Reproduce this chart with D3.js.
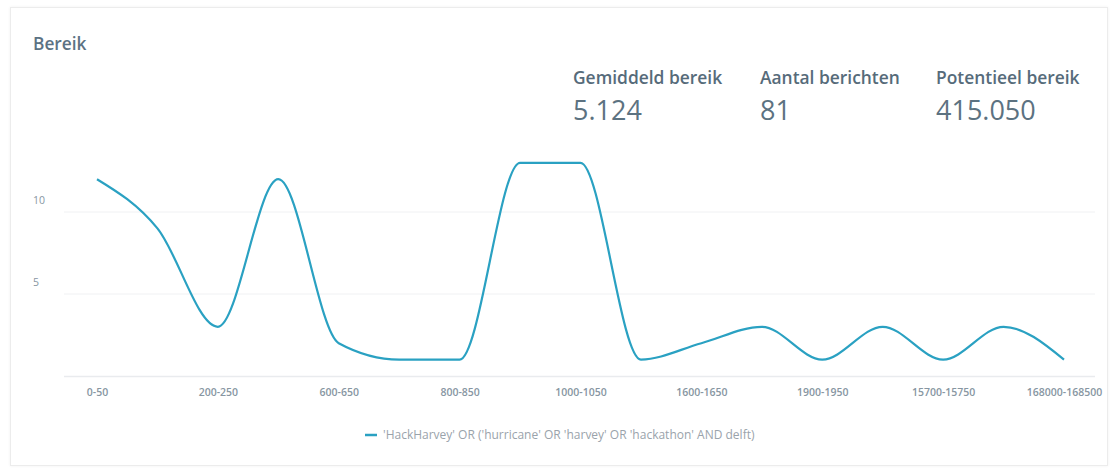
<!DOCTYPE html>
<html>
<head>
<meta charset="utf-8">
<script src="https://cdn.jsdelivr.net/npm/d3@7"></script>
<style>
  body { margin: 0; background: #fff; font-family: "Open Sans", Lato, sans-serif; }
  .card { position: absolute; left: 10px; top: 7px; width: 1096px; height: 457px;
          border: 1px solid #ececec; box-shadow: 0 0 3px rgba(0,0,0,0.06); background: #fff; }
  .tick text { fill: #8796a2; }
</style>
</head>
<body>
<div class="card"></div>
<svg id="chart" width="1110" height="468" style="position:absolute;left:0;top:0"></svg>
<script>
// categories (every other one is labelled on the axis)
const categories = ["0-50", "100-150", "200-250", "400-450", "600-650", "700-750", "800-850", "900-950",
  "1000-1050", "1100-1150", "1600-1650", "1700-1750", "1900-1950", "2000-2050", "15700-15750",
  "35000-35050", "168000-168500"];
const values = [12, 9, 3, 12, 2, 1, 1, 13, 13, 1, 2, 3, 1, 3, 1, 3, 1];
const yTicks = [5, 10];
const seriesName = "'HackHarvey' OR ('hurricane' OR 'harvey' OR 'hackathon' AND delft)";
const statLabels = ["Gemiddeld bereik", "Aantal berichten", "Potentieel bereik"];
const statValues = ["5.124", "81", "415.050"];

const svg = d3.select("#chart");
const font = "\"Open Sans\", Lato, sans-serif";
const plotLeft = 64, plotRight = 1095, plotBottom = 376;
const lineColor = "#2aa1c2";

const x = d3.scalePoint().domain(categories).range([97, 1064]);
const y = d3.scaleLinear().domain([0, 15]).range([plotBottom, plotBottom - 15 * 16.4]);

// title
svg.append("text").attr("x", 33).attr("y", 50)
  .attr("font-size", 17.3).attr("font-weight", 600).attr("fill", "#5b7283")
  .text("Bereik");

// stats
const statX = [573, 760, 936];
statLabels.forEach((s, i) => {
  svg.append("text").attr("x", statX[i]).attr("y", 84)
    .attr("font-size", 17.4).attr("font-weight", 600).attr("fill", "#566b7a").text(s);
  svg.append("text").attr("x", statX[i]).attr("y", 120)
    .attr("font-size", 27).attr("fill", "#5c7281").text(statValues[i]);
});

// grid lines
svg.append("g").selectAll("line").data(yTicks).enter().append("line")
  .attr("x1", plotLeft).attr("x2", plotRight)
  .attr("y1", d => y(d)).attr("y2", d => y(d))
  .attr("stroke", "#f0f1f3").attr("stroke-width", 1);
svg.append("line").attr("x1", plotLeft).attr("x2", plotRight)
  .attr("y1", plotBottom + 0.5).attr("y2", plotBottom + 0.5)
  .attr("stroke", "#e9ebee").attr("stroke-width", 1.5);

// y labels sit above grid lines
svg.append("g").selectAll("text").data(yTicks).enter().append("text")
  .attr("x", 33).attr("y", d => y(d) - 8)
  .attr("font-size", 10.5).attr("fill", "#8796a2")
  .text(d => d);

// x axis, only every other label shown
const xAxis = d3.axisBottom(x)
  .tickValues(categories.filter((d, i) => i % 2 === 0))
  .tickSize(0).tickPadding(13);
const gx = svg.append("g").attr("transform", "translate(0," + plotBottom + ")").call(xAxis);
gx.select(".domain").remove();
gx.selectAll("text").attr("font-size", 10.5).attr("font-weight", 600).attr("font-family", font);

// the line
const line = d3.line()
  .x((d, i) => x(categories[i]))
  .y(d => y(d))
  .curve(d3.curveMonotoneX);
svg.append("path").datum(values)
  .attr("fill", "none").attr("stroke", lineColor).attr("stroke-width", 2.2)
  .attr("d", line);

// legend
svg.append("line").attr("x1", 365).attr("x2", 377).attr("y1", 435).attr("y2", 435)
  .attr("stroke", lineColor).attr("stroke-width", 2.5);
svg.append("text").attr("x", 383).attr("y", 439)
  .attr("font-size", 12).attr("fill", "#9aa3ab").text(seriesName);
</script>
</body>
</html>
